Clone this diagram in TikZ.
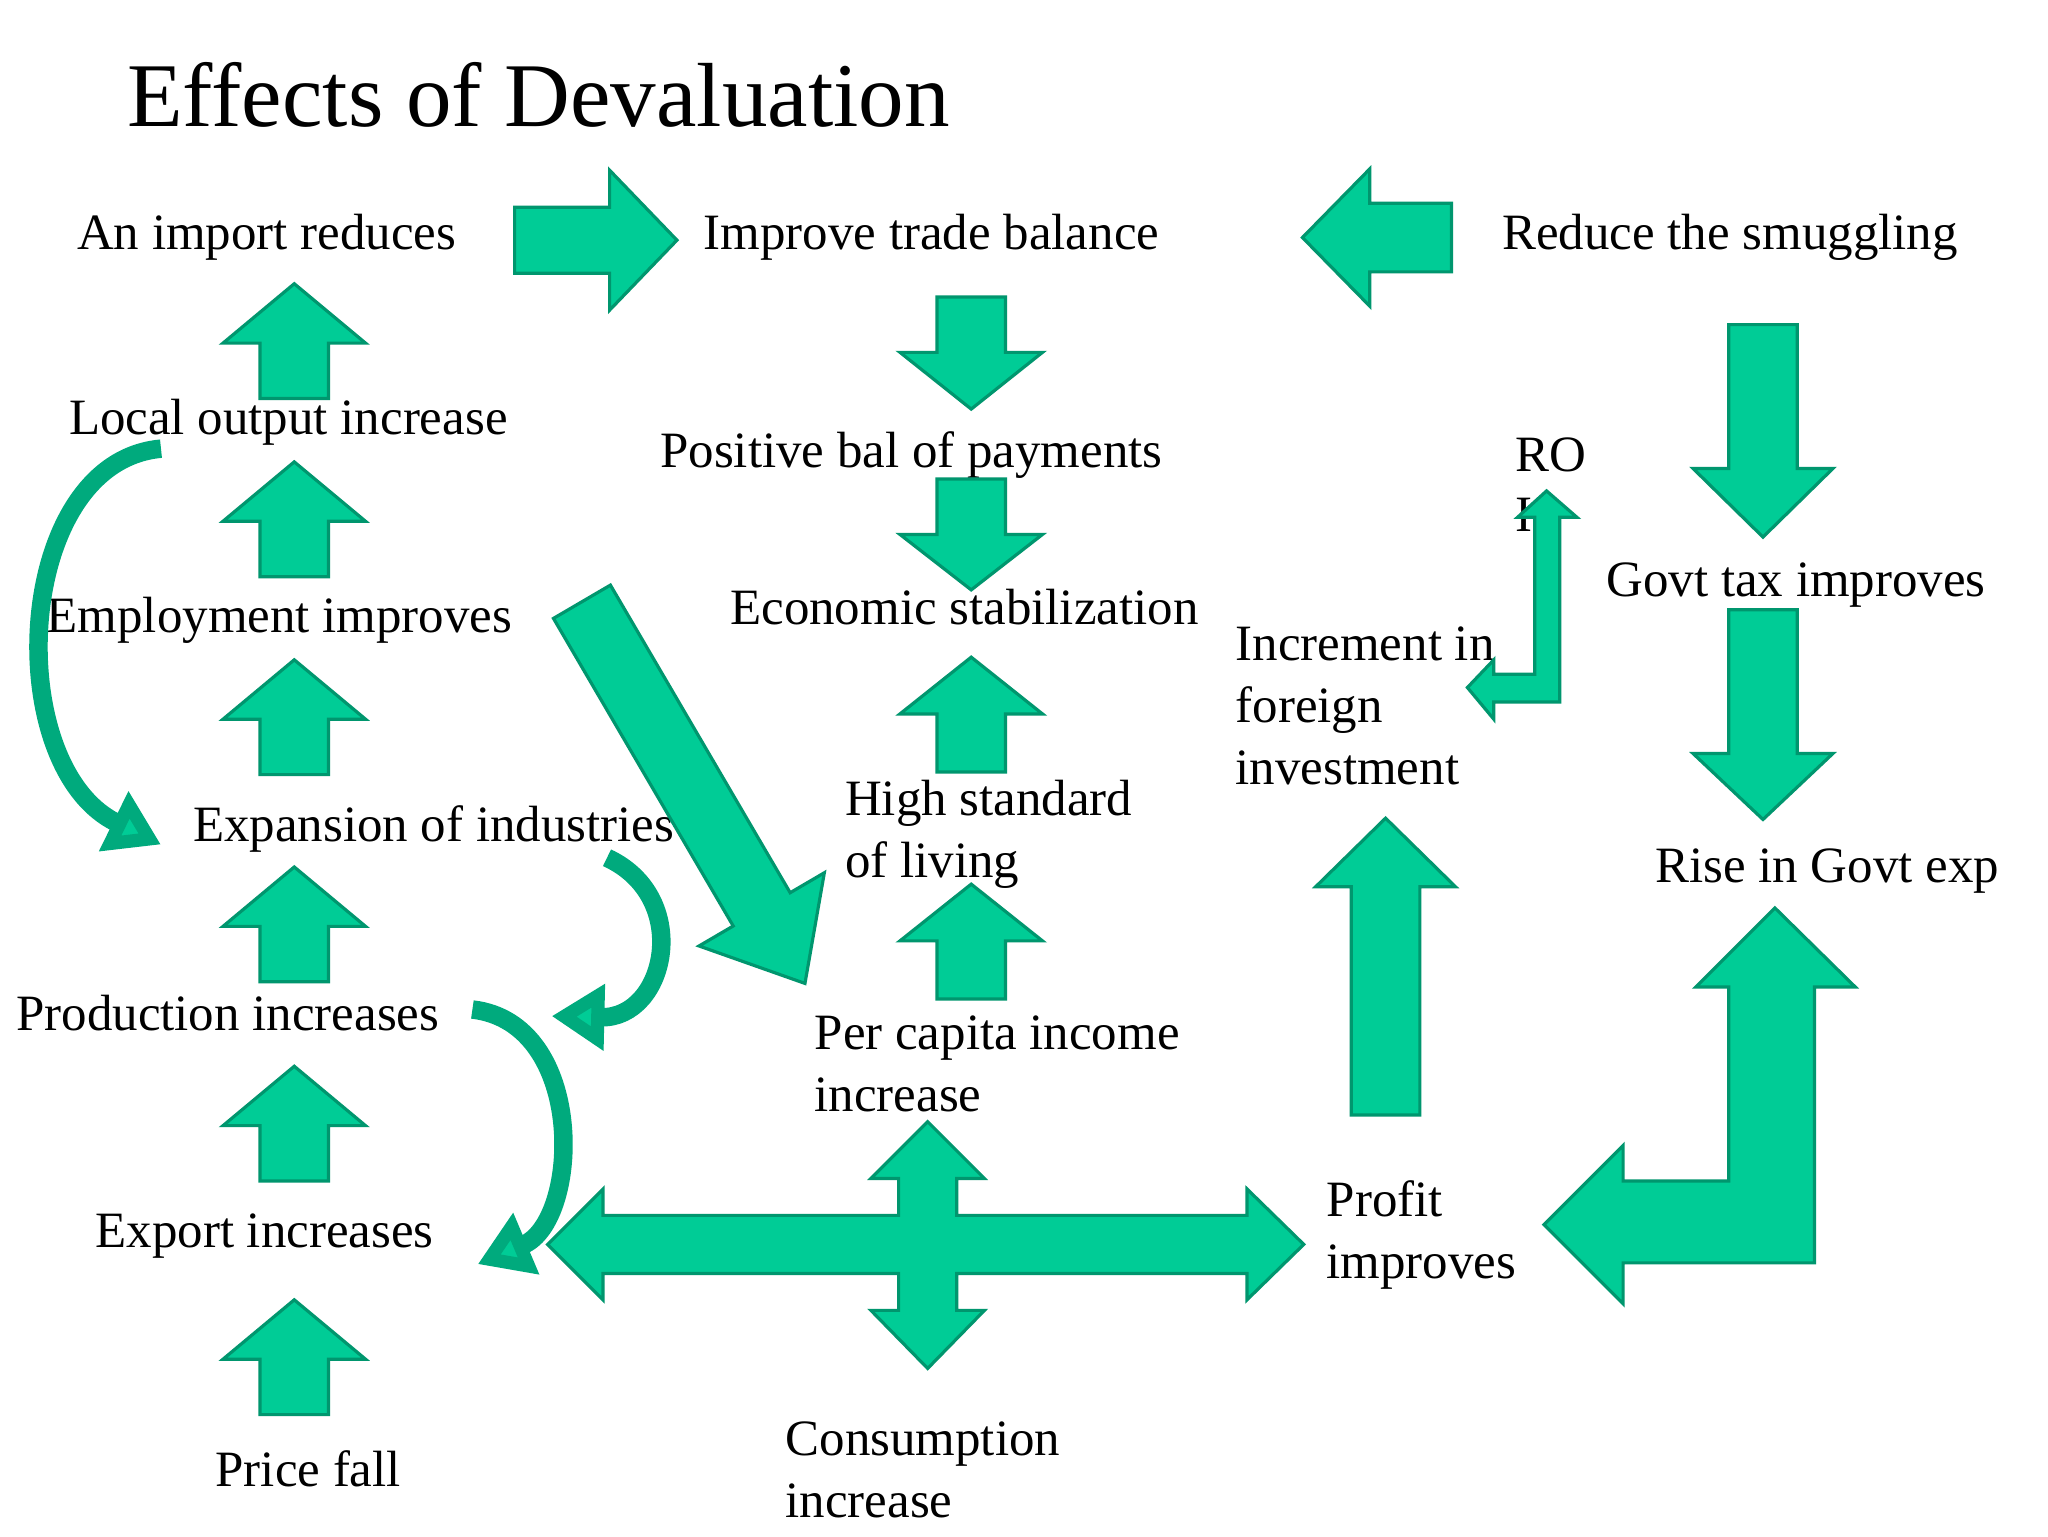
\documentclass[tikz,border=0pt]{standalone}
\usepackage{fontspec}
\setmainfont{Liberation Serif}
\usetikzlibrary{arrows.meta}
\definecolor{tealf}{RGB}{0,204,150}
\definecolor{teald}{RGB}{0,150,110}
\definecolor{tealc}{RGB}{0,170,125}
\tikzset{blk/.style={fill=tealf,draw=teald,line width=1.2pt,line join=miter},
 txt/.style={anchor=west,font=\fontsize{19.3}{23.5}\selectfont,align=left,inner sep=0pt},
 curv/.style={draw=tealc,line width=7pt,-{Triangle[length=20pt,width=24pt,fill=tealf,color=tealc]}}}
\newcommand\varr[6]{\filldraw[blk] (#1,#2) -- (#1+#5,#3) -- (#1+#6,#3) -- (#1+#6,#4) -- (#1-#6,#4) -- (#1-#6,#3) -- (#1-#5,#3) -- cycle;}
\newcommand\harr[6]{\filldraw[blk] (#2,#1) -- (#3,#1+#5) -- (#3,#1+#6) -- (#4,#1+#6) -- (#4,#1-#6) -- (#3,#1-#6) -- (#3,#1-#5) -- cycle;}
\begin{document}
\begin{tikzpicture}[x=0.5pt,y=-0.5pt]
\useasboundingbox[fill=white] (0,0) rectangle (1552,1164);
\node[anchor=west,inner sep=0pt,font=\fontsize{34.5}{40}\selectfont] (title) at (96,72) {Effects of Devaluation};
\node[txt] (t1) at (58,180) {An import reduces};
\node[txt] (t2) at (533,180) {Improve trade balance};
\node[txt] (t3) at (1138,180) {Reduce the smuggling};
\node[txt] (t4) at (52,320) {Local output increase};
\node[txt] (t5) at (500,345) {Positive bal of payments};
\node[txt] (t6) at (1148,345) {RO};
\node[txt] (t6b) at (1148,390) {I};
\node[txt] (t7) at (35,470) {Employment improves};
\node[txt] (t8) at (553,460) {Economic stabilization};
\node[txt] (t9) at (1217,443) {Govt tax improves};
\node[txt] (t10) at (936,535) {Increment in\\foreign\\investment};
\node[txt] (t11) at (146,628) {Expansion of industries};
\node[txt] (t12) at (640,632) {High standard\\of living};
\node[txt] (t13) at (1254,660) {Rise in Govt exp};
\node[txt] (t14) at (12,768) {Production increases};
\node[txt] (t15) at (617,806) {Per capita income\\increase};
\node[txt] (t16) at (72,937) {Export increases};
\node[txt] (t17) at (1005,936) {Profit\\improves};
\node[txt] (t18) at (163,1113) {Price fall};
\node[txt] (t19) at (595,1114) {Consumption\\increase};
\foreach \t in {215,350,500,657,808,985} {\varr{223}{\t}{\t+45}{\t+87}{54}{26}}
\varr{736}{310}{267}{225}{54}{26}
\varr{736}{447}{405}{363}{54}{26}
\varr{736}{498}{541}{585}{54}{26}
\varr{736}{670}{713}{757}{54}{26}
\harr{182}{513}{462}{390}{53}{25}
\harr{180}{987}{1038}{1100}{52}{26}
\varr{1336}{407}{355}{246}{53}{26}
\varr{1336}{621}{571}{462}{53}{26}
\varr{1050}{620}{672}{845}{53}{26}
\filldraw[blk] (415,943) -- (457,901) -- (457,921) -- (681,921) -- (681,893) -- (660,893) -- (703,850) -- (746,893) -- (725,893) -- (725,921) -- (945,921) -- (945,901) -- (988,943) -- (945,985) -- (945,965) -- (725,965) -- (725,993) -- (746,993) -- (703,1037) -- (660,993) -- (681,993) -- (681,965) -- (457,965) -- (457,985) -- cycle;
\filldraw[blk] (1170,928) -- (1230,868) -- (1230,895) -- (1310,895) -- (1310,748) -- (1285,748) -- (1345,688) -- (1406,748) -- (1375,748) -- (1375,957) -- (1230,957) -- (1230,988) -- cycle;
\filldraw[blk] (1172,372) -- (1195,392) -- (1182,392) -- (1182,532) -- (1132,532) -- (1132,545) -- (1112,521) -- (1132,500) -- (1132,511) -- (1163,511) -- (1163,392) -- (1150,392) -- cycle;
\begin{scope}[shift={(441,456)},rotate=-59.7]
\filldraw[blk] (0,-25) -- (270,-25) -- (270,-55) -- (335,0) -- (270,55) -- (270,25) -- (0,25) -- cycle;
\end{scope}
\draw[curv] (122,340) .. controls (10,350) and (0,580) .. (122,640);
\draw[curv] (460,650) .. controls (525,680) and (505,772) .. (418,770);
\draw[curv] (358,765) .. controls (445,775) and (440,925) .. (362,958);
\end{tikzpicture}
\end{document}
